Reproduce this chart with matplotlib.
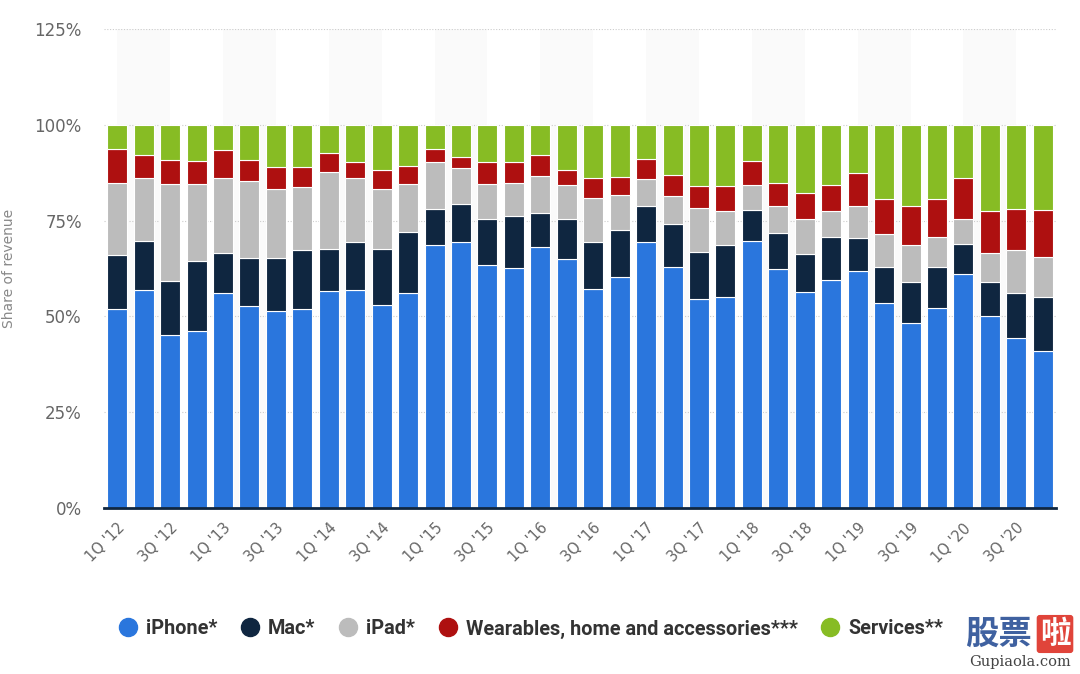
import matplotlib
matplotlib.use("Agg")
import matplotlib.pyplot as plt
from matplotlib.lines import Line2D
import numpy as np

quarters = ["1Q '12", "2Q '12", "3Q '12", "4Q '12",
            "1Q '13", "2Q '13", "3Q '13", "4Q '13",
            "1Q '14", "2Q '14", "3Q '14", "4Q '14",
            "1Q '15", "2Q '15", "3Q '15", "4Q '15",
            "1Q '16", "2Q '16", "3Q '16", "4Q '16",
            "1Q '17", "2Q '17", "3Q '17", "4Q '17",
            "1Q '18", "2Q '18", "3Q '18", "4Q '18",
            "1Q '19", "2Q '19", "3Q '19", "4Q '19",
            "1Q '20", "2Q '20", "3Q '20", "4Q '20"]

iphone = [51.9, 56.9, 45.1, 46.3, 56.2, 52.6, 51.5, 52.0, 56.6, 56.9, 53.0, 56.2,
          68.7, 69.5, 63.4, 62.7, 68.2, 64.9, 57.1, 60.2, 69.5, 63.0, 54.6, 55.0,
          69.8, 62.3, 56.3, 59.5, 61.9, 53.6, 48.2, 52.1, 61.1, 50.0, 44.3, 41.1]
mac = [14.2, 12.8, 14.2, 18.2, 10.3, 12.7, 13.8, 15.4, 11.1, 12.4, 14.7, 15.9,
       9.4, 9.8, 12.0, 13.4, 8.7, 10.5, 12.2, 12.4, 9.4, 11.2, 12.3, 13.7,
       8.0, 9.4, 9.9, 11.3, 8.5, 9.2, 10.7, 10.7, 7.7, 8.9, 11.9, 13.9]
ipad = [18.8, 16.4, 25.3, 20.1, 19.6, 20.1, 18.0, 16.3, 19.9, 16.8, 15.6, 12.5,
        12.1, 9.3, 9.2, 8.7, 9.8, 8.8, 11.7, 9.1, 6.9, 7.3, 11.3, 8.9,
        6.4, 7.0, 9.3, 6.6, 8.3, 8.7, 9.8, 7.8, 6.7, 7.6, 11.2, 10.4]
wearables = [8.8, 6.0, 6.3, 5.9, 7.2, 5.5, 5.6, 5.2, 5.0, 4.1, 4.8, 4.7,
             3.5, 3.1, 5.6, 5.4, 5.5, 3.9, 5.1, 4.8, 5.2, 5.4, 5.9, 6.5,
             6.4, 6.2, 6.8, 6.8, 8.8, 9.1, 10.2, 10.0, 10.6, 10.9, 10.7, 12.4]
services = [6.3, 7.9, 9.1, 9.5, 6.7, 9.1, 11.1, 11.1, 7.4, 9.8, 11.9, 10.7,
            6.3, 8.3, 9.8, 9.8, 7.8, 11.9, 13.9, 13.5, 9.0, 13.1, 15.9, 15.9,
            9.4, 15.1, 17.7, 15.8, 12.5, 19.4, 21.1, 19.4, 13.9, 22.6, 21.9, 22.2]

series_names = ["iPhone*", "Mac*", "iPad*", "Wearables, home and accessories***", "Services**"]
series_values = [iphone, mac, ipad, wearables, services]
colors = ["#2a76dd", "#0f2640", "#bcbcbc", "#ae1010", "#87bc24"]

yticks = [0, 25, 50, 75, 100, 125]
ytick_labels = ["0%", "25%", "50%", "75%", "100%", "125%"]

fig = plt.figure(figsize=(10.8, 6.74), dpi=100)
ax = fig.add_axes([104/1080, 1-508/674, (1056-104)/1080, (508-29)/674])

x = np.arange(len(quarters))
# faint background bands
for i in range(0, len(quarters), 4):
    ax.axvspan(i, i + 2, color="#fafafa", zorder=0, lw=0)

bottom = np.zeros(len(quarters))
for name, vals, c in zip(series_names, series_values, colors):
    vals = np.array(vals)
    ax.bar(x, vals, bottom=bottom, width=0.76, color=c, edgecolor="white",
           linewidth=0.8, zorder=3, label=name)
    bottom += vals

ax.set_xlim(-0.5, len(quarters) - 0.5)
ax.set_ylim(0, 125)
ax.set_yticks(yticks)
ax.set_yticklabels(ytick_labels, fontsize=12, color="#666666")
ax.set_xticks(x[::2])
ax.set_xticklabels(quarters[::2], rotation=45, ha="right", rotation_mode="anchor",
                   fontsize=10.5, color="#666666")
ax.tick_params(axis="both", length=0)
ax.tick_params(axis="y", pad=16)
ax.tick_params(axis="x", pad=9)
ax.grid(axis="y", color="#cccccc", linestyle=(0, (1, 1.5)), linewidth=0.8, zorder=1)
for s in ["top", "right", "left"]:
    ax.spines[s].set_visible(False)
ax.spines["bottom"].set_color("#0f2640")
ax.spines["bottom"].set_linewidth(2)
ax.spines["bottom"].set_zorder(5)
ax.set_ylabel("Share of revenue", fontsize=10, color="#888888")
ax.yaxis.set_label_coords(-88/952, 0.5)

handles = [Line2D([0], [0], marker="o", linestyle="none", markersize=13,
                  markerfacecolor=c, markeredgecolor=c) for c in colors]
leg = fig.legend(handles, series_names, loc="center", bbox_to_anchor=(0.491, 1-629/674),
                 ncol=5, frameon=False, handletextpad=0.35, columnspacing=1.1,
                 handlelength=1.1,
                 prop={"family": "Roboto", "weight": "bold", "size": 14.3})
for t in leg.get_texts():
    t.set_color("#333333")

# watermark
fig.text(965/1080, 1-634/674, "股票", family=["Noto Sans CJK SC"], fontsize=24,
         fontweight="bold", color="#3f61a0", va="center", ha="left")
fig.text(1055/1080, 1-634/674, "啦", family=["Noto Sans CJK SC"], fontsize=22,
         fontweight="bold", color="white", va="center", ha="center",
         bbox=dict(boxstyle="round,pad=0.1", fc="#e0443a", ec="none"))
fig.text(1020/1080, 1-662/674, "Gupiaola.com", family=["DejaVu Serif"], fontsize=10.5,
         color="#444444", va="center", ha="center")

fig.savefig("out.png", dpi=100)
